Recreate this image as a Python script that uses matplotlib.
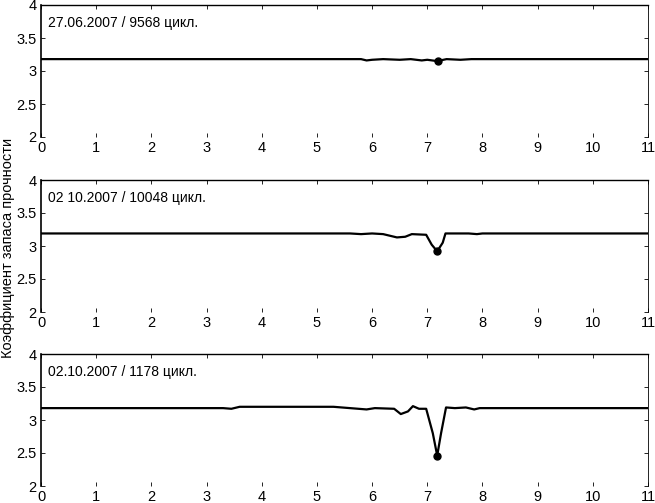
import numpy as np
import matplotlib
matplotlib.use('Agg')
from matplotlib import pyplot as plt

plt.rcParams['font.family'] = ['Liberation Sans', 'DejaVu Sans']

# данные трёх измерений
x1 = [0, 5.8, 5.9, 6.0, 6.2, 6.5, 6.7, 6.9, 7.0, 7.18, 7.35, 7.6, 7.8, 8.0, 11]
y1 = [3.18, 3.18, 3.16, 3.17, 3.18, 3.17, 3.18, 3.16, 3.17, 3.15, 3.18, 3.17, 3.18, 3.18, 3.18]
min1 = (7.2, 3.15)

x2 = [0, 5.6, 5.8, 6.0, 6.2, 6.45, 6.6, 6.72, 6.98, 7.08, 7.18, 7.28, 7.33, 7.75, 7.9, 8.0, 11]
y2 = [3.19, 3.19, 3.18, 3.19, 3.18, 3.13, 3.14, 3.18, 3.17, 3.02, 2.92, 3.05, 3.19, 3.19, 3.18, 3.19, 3.19]
min2 = (7.18, 2.92)

x3 = [0, 3.3, 3.45, 3.6, 5.3, 5.6, 5.9, 6.05, 6.4, 6.52, 6.65, 6.74, 6.85, 6.98,
      7.1, 7.18, 7.25, 7.34, 7.5, 7.7, 7.85, 7.95, 11]
y3 = [3.18, 3.18, 3.17, 3.2, 3.2, 3.18, 3.16, 3.18, 3.17, 3.09, 3.13, 3.21, 3.17, 3.17,
      2.8, 2.46, 2.8, 3.19, 3.18, 3.19, 3.16, 3.18, 3.18]
min3 = (7.18, 2.46)

labels = ['27.06.2007 / 9568 цикл.', '02 10.2007 / 10048 цикл.', '02.10.2007 / 1178 цикл.']
xticks = list(range(0, 12))
yticks = [2, 2.5, 3, 3.5, 4]
ytick_labels = ['2', '2.5', '3', '3.5', '4']

fig = plt.figure(figsize=(6.55, 5.03), dpi=100)
left = 41 / 655
width = 607 / 655
tops = [5, 180, 354]
h = 132 / 503

data = [(x1, y1, min1), (x2, y2, min2), (x3, y3, min3)]
for i, (xs, ys, mn) in enumerate(data):
    bottom = 1 - (tops[i] + 132) / 503
    ax = fig.add_axes([left, bottom, width, h])
    ax.plot(xs, ys, color='black', lw=1.6)
    ax.plot(mn[0], mn[1], 'o', color='black', ms=5)
    ax.text(0.13, 3.73, labels[i], fontsize=10, va='center', ha='left')
    ax.set_xlim(0, 11)
    ax.set_ylim(2, 4)
    ax.set_xticks(xticks)
    ax.set_yticks(yticks)
    ax.set_yticklabels(ytick_labels)
    ax.tick_params(direction='in', length=3, width=0.6, top=True, right=True,
                   labelsize=10.5, pad=3)
    ax.spines['bottom'].set_visible(False)
    ax.spines['left'].set_linewidth(1.2)
    ax.spines['top'].set_linewidth(1.0)
    ax.spines['right'].set_linewidth(0.6)

fig.text(8 / 655, 1 - 248 / 503, 'Коэффициент запаса прочности', rotation=90,
         fontsize=10.5, va='center', ha='center')

fig.savefig('out.png', dpi=100)
